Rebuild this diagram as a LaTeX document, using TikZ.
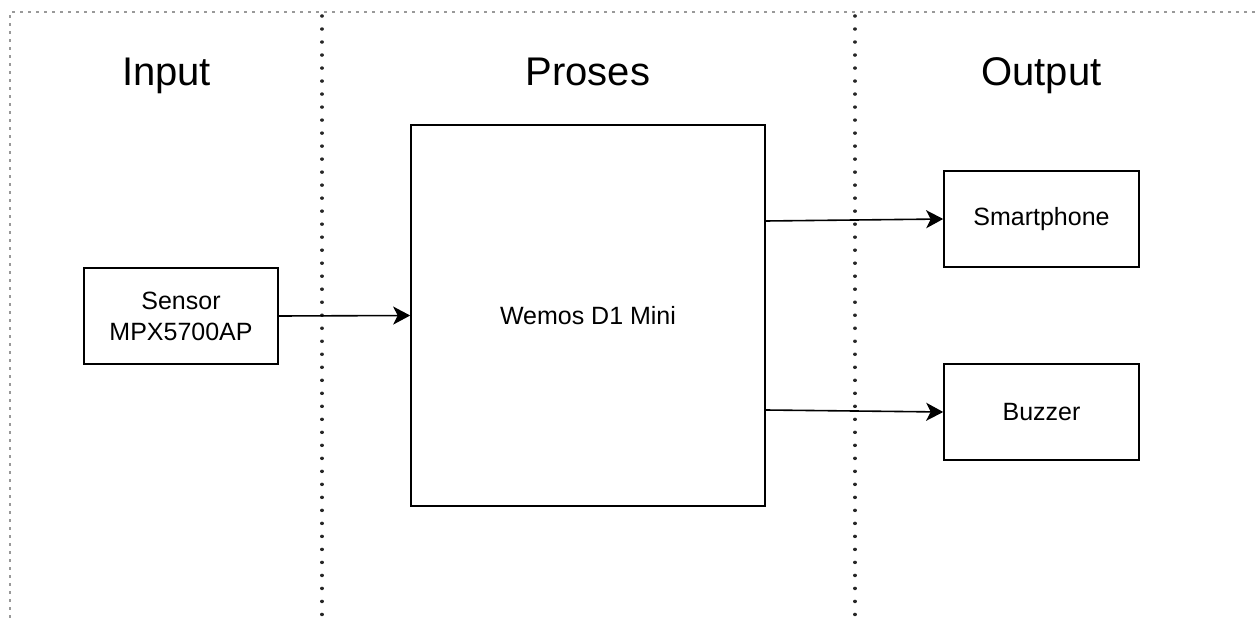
\documentclass[tikz,border=0pt]{standalone}
\usepackage{fontspec}
\setmainfont{Liberation Sans}
\usetikzlibrary{arrows.meta}
\begin{document}
\begin{tikzpicture}[x=1bp,y=-1bp,
  blockbox/.style={draw=black, line width=1.6bp, inner sep=0pt, align=center,
    font=\fontsize{25bp}{31bp}\selectfont},
  titletext/.style={anchor=base, inner sep=0pt, font=\fontsize{40bp}{48bp}\selectfont},
  flowarrow/.style={line width=1.6bp, -{Stealth[length=17bp, width=18bp, inset=4.5bp]}},
  colsep/.style={line width=3.5bp, line cap=round, dash pattern=on 0.01bp off 13bp, black!85},
  pageedge/.style={line width=1.2bp, dash pattern=on 3bp off 5bp, black!40}
]
\useasboundingbox (0,0) rectangle (1255,618);
% page border
\coordinate (pr) at (1255,12);
\coordinate (pc) at (10,12);
\coordinate (pb) at (10,618);
\draw[pageedge] (pr) -- (pc) -- (pb);
% column separators
\coordinate (s1t) at (322,16);
\coordinate (s1b) at (322,618);
\coordinate (s2t) at (855,16);
\coordinate (s2b) at (855,618);
\draw[colsep] (s1t) -- (s1b);
\draw[colsep] (s2t) -- (s2b);
% titles
\node[titletext] (tin) at (166.5,86) {Input};
\node[titletext] (tpr) at (588,86) {Proses};
\node[titletext] (tout) at (1041.5,86) {Output};
% blocks
\node[blockbox, minimum width=194bp, minimum height=96bp] (sensor) at (181,316) {Sensor\\MPX5700AP};
\node[blockbox, minimum width=354bp, minimum height=381bp] (wemos) at (588,315.5) {Wemos D1 Mini};
\node[blockbox, minimum width=195bp, minimum height=96bp] (smart) at (1041.5,219) {Smartphone};
\node[blockbox, minimum width=195bp, minimum height=96bp] (buzz) at (1041.5,412) {Buzzer};
% connectors
\draw[flowarrow] (sensor.east) -- (wemos.west);
\draw[flowarrow] ([yshift=94.5bp]wemos.east) -- (smart.west);
\draw[flowarrow] ([yshift=-94.5bp]wemos.east) -- (buzz.west);
\end{tikzpicture}
\end{document}
